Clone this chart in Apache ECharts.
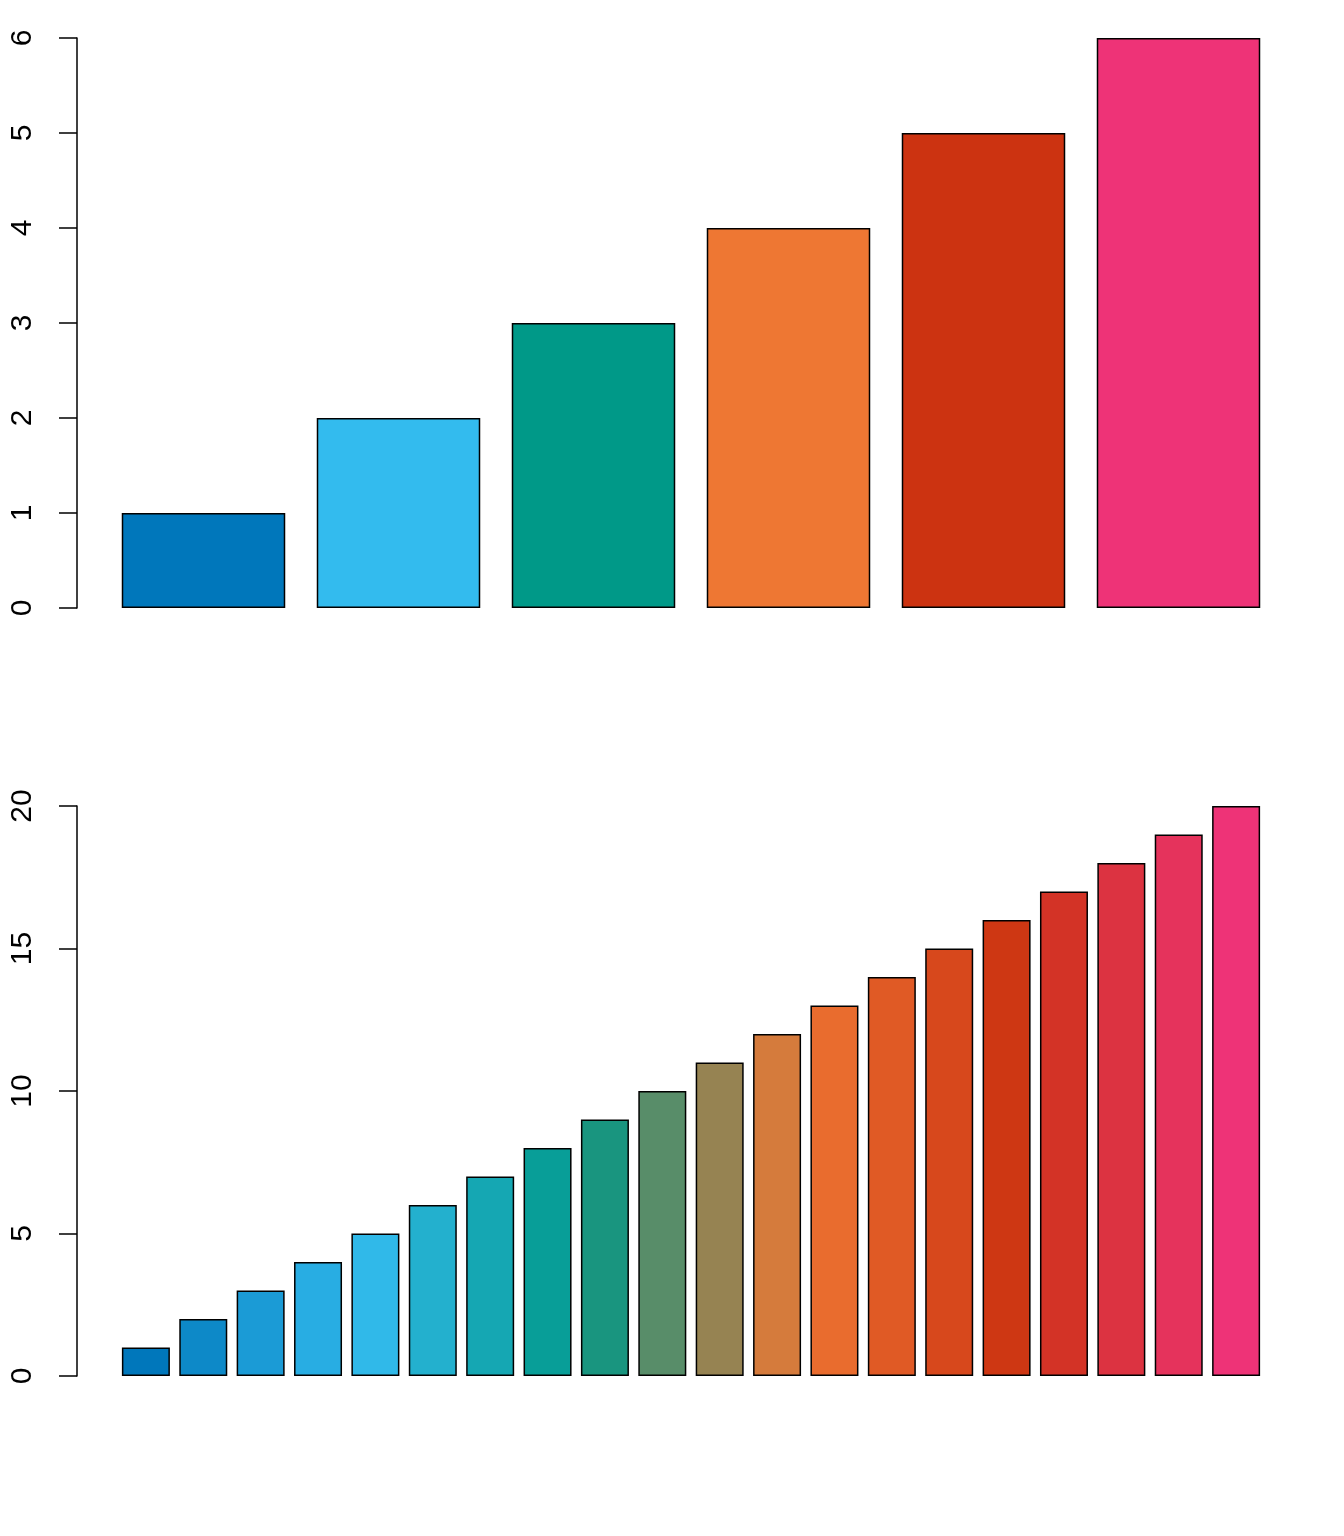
<!DOCTYPE html>
<html><head><meta charset="utf-8">
<script src="https://cdn.jsdelivr.net/npm/echarts@6/dist/echarts.min.js"></script>
<style>html,body{margin:0;padding:0;background:#fff}#c{width:1344px;height:1536px}</style>
</head><body><div id="c"></div>
<script>
const topCategories = ['1','2','3','4','5','6'];
const topValues = [1,2,3,4,5,6];
const topColors = ['#0077BB','#33BBEE','#009988','#EE7733','#CC3311','#EE3377'];
const bottomCategories = ['1','2','3','4','5','6','7','8','9','10','11','12','13','14','15','16','17','18','19','20'];
const bottomValues = [1,2,3,4,5,6,7,8,9,10,11,12,13,14,15,16,17,18,19,20];
const bottomColors = ['#0077BB','#0D89C8','#1B9BD6','#28ADE3','#30B9E9','#23B0CE','#15A7B3','#089E98','#19957F','#588D69',
  '#968352','#D57B3C','#E96C2E','#E05A25','#D7481C','#CE3713','#D33326','#DC3341','#E5335C','#EE3377'];
const topTicks = {min:0, max:6, interval:1};
const bottomTicks = {min:0, max:20, interval:5};

const font = 'Liberation Sans, Arial, Helvetica, sans-serif';
function yAx(idx, t, off){
  return {type:'value', gridIndex:idx, min:t.min, max:t.max, interval:t.interval, offset:off,
    splitLine:{show:false},
    axisLine:{show:true, lineStyle:{color:'#000', width:1.5}},
    axisTick:{show:true, length:18, lineStyle:{color:'#000', width:1.5}},
    axisLabel:{rotate:90, margin:39, color:'#000', fontSize:30, fontFamily:font}};
}
function xAx(idx, cats){
  return {type:'category', gridIndex:idx, data:cats, show:false, boundaryGap:true};
}
function mk(vals, cols){
  return vals.map((v,i)=>({value:v, itemStyle:{color:cols[i]}}));
}
const chart = echarts.init(document.getElementById('c'), null, {renderer:'canvas'});
chart.setOption({
  animation:false,
  backgroundColor:'#fff',
  grid:[
    {left:106, top:38, width:1170, height:570},
    {left:117.2, top:806, width:1147.6, height:570}
  ],
  xAxis:[xAx(0, topCategories), xAx(1, bottomCategories)],
  yAxis:[yAx(0, topTicks, 29), yAx(1, bottomTicks, 40.2)],
  series:[
    {type:'bar', xAxisIndex:0, yAxisIndex:0, barWidth:163.5, data:mk(topValues, topColors),
      itemStyle:{borderColor:'#000', borderWidth:1.5}},
    {type:'bar', xAxisIndex:1, yAxisIndex:1, barWidth:48, data:mk(bottomValues, bottomColors),
      itemStyle:{borderColor:'#000', borderWidth:1.5}}
  ]
});
</script></body></html>
